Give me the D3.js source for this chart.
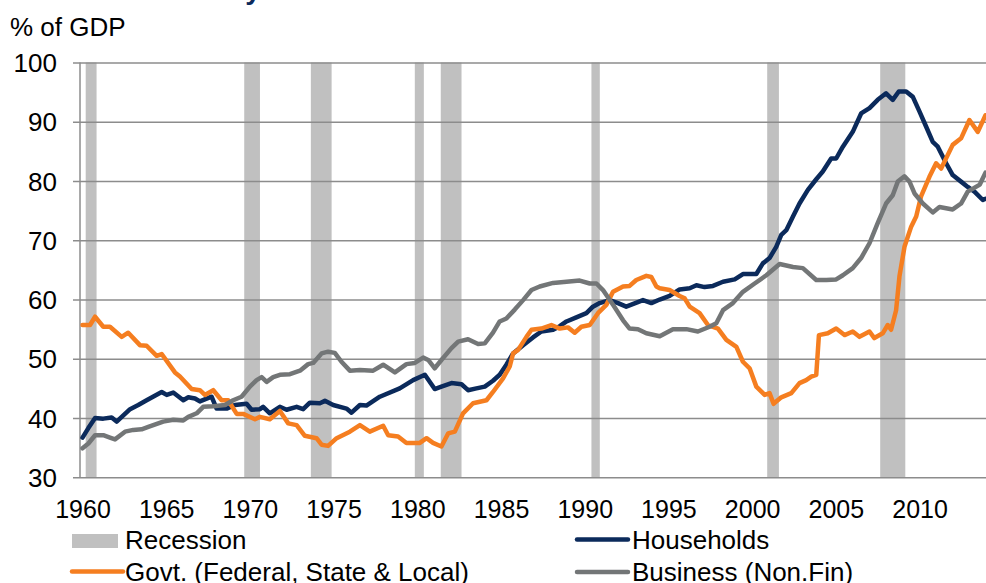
<!DOCTYPE html>
<html>
<head>
    <title>Debt by Sector</title>
    <script src="https://d3js.org/d3.v7.min.js"></script>
    <style>
        body {
            margin: 0;
            background-color: #fff;
            font-family: Arial, "Liberation Sans", sans-serif;
        }
        svg text {
            fill: #000;
        }
    </style>
</head>
<body>
    <div id="chart"></div>
    <script>
        // recession periods (start, end) in decimal years
        const recessions = [
            [1960.19, 1960.84], [1969.66, 1970.60], [1973.64, 1974.88],
            [1979.85, 1980.39], [1981.40, 1982.64], [1990.40, 1990.90],
            [2000.90, 2001.60], [2007.65, 2009.15]
        ];

        const yTicks = [30, 40, 50, 60, 70, 80, 90, 100];
        const xTicks = [1960, 1965, 1970, 1975, 1980, 1985, 1990, 1995, 2000, 2005, 2010];

        // households debt, % of GDP
        const households = [
            [1960.00, 36.7], [1960.35, 38.3], [1960.75, 40.0], [1961.24, 39.9], [1961.74, 40.1],
            [1962.04, 39.4], [1962.84, 41.5], [1963.33, 42.2], [1963.83, 43.0], [1964.73, 44.4],
            [1965.03, 43.9], [1965.42, 44.3], [1966.02, 43.0], [1966.32, 43.5], [1966.72, 43.3],
            [1967.01, 42.8], [1967.71, 43.6], [1968.01, 41.6], [1968.61, 41.6], [1969.10, 42.2],
            [1969.80, 42.4], [1970.10, 41.4], [1970.60, 41.5], [1970.79, 41.9], [1971.19, 40.8],
            [1971.79, 41.9], [1972.19, 41.4], [1972.79, 41.9], [1973.18, 41.5], [1973.58, 42.6],
            [1974.18, 42.5], [1974.48, 42.9], [1974.97, 42.2], [1975.77, 41.6], [1976.07, 40.9],
            [1976.57, 42.2], [1976.96, 42.1], [1977.76, 43.6], [1978.95, 45.0], [1979.75, 46.4],
            [1980.45, 47.3], [1981.04, 44.9], [1981.44, 45.3], [1982.04, 45.9], [1982.64, 45.7],
            [1983.03, 44.7], [1983.53, 45.0], [1984.03, 45.3], [1984.52, 46.3], [1984.92, 47.3],
            [1985.32, 49.0], [1985.72, 50.9], [1986.32, 52.3], [1986.91, 53.6], [1987.41, 54.6],
            [1988.11, 54.9], [1988.51, 55.5], [1988.91, 56.3], [1989.50, 57.0], [1990.10, 57.7],
            [1990.49, 58.8], [1990.89, 59.4], [1991.49, 59.9], [1991.99, 59.4], [1992.48, 58.8],
            [1993.48, 59.9], [1993.98, 59.4], [1994.48, 60.0], [1995.07, 60.6], [1995.67, 61.7],
            [1996.27, 61.9], [1996.67, 62.4], [1997.16, 62.1], [1997.66, 62.3], [1998.26, 63.0],
            [1998.96, 63.4], [1999.45, 64.3], [2000.25, 64.3], [2000.64, 66.1], [2001.04, 67.0],
            [2001.44, 68.9], [2001.74, 70.9], [2002.04, 71.7], [2002.44, 74.0], [2002.83, 76.2],
            [2003.33, 78.5], [2003.83, 80.3], [2004.22, 81.6], [2004.72, 83.8], [2005.02, 83.8],
            [2005.42, 85.8], [2006.01, 88.3], [2006.51, 91.4], [2007.01, 92.3], [2007.50, 93.7],
            [2008.00, 94.8], [2008.40, 93.7], [2008.76, 95.1], [2009.20, 95.1], [2009.60, 94.2],
            [2010.00, 91.7], [2010.39, 89.2], [2010.79, 86.6], [2011.09, 85.8], [2011.59, 83.0],
            [2011.98, 81.0], [2012.48, 79.9], [2012.88, 79.0], [2013.28, 78.2], [2013.78, 76.8],
            [2013.94, 77.0]
        ];

        // government debt (federal, state & local), % of GDP
        const govt = [
            [1960.00, 55.7], [1960.45, 55.7], [1960.75, 57.1], [1961.24, 55.4], [1961.64, 55.4],
            [1962.34, 53.7], [1962.73, 54.4], [1963.43, 52.3], [1963.83, 52.2], [1964.43, 50.5],
            [1964.73, 50.8], [1965.52, 47.7], [1965.82, 47.0], [1966.52, 44.9], [1967.01, 44.7],
            [1967.31, 43.9], [1967.81, 44.7], [1968.31, 43.0], [1968.70, 43.0], [1969.21, 40.7],
            [1969.60, 40.7], [1970.30, 39.8], [1970.60, 40.2], [1971.19, 39.8], [1971.79, 41.2],
            [1972.29, 39.1], [1972.79, 38.8], [1973.28, 37.0], [1973.98, 36.6], [1974.28, 35.5],
            [1974.67, 35.3], [1975.18, 36.6], [1975.97, 37.7], [1976.57, 38.8], [1977.16, 37.7],
            [1977.96, 38.7], [1978.26, 37.1], [1978.85, 36.9], [1979.35, 35.8], [1980.15, 35.8],
            [1980.55, 36.6], [1980.94, 35.8], [1981.44, 35.2], [1981.84, 37.4], [1982.24, 37.7],
            [1982.73, 40.8], [1983.33, 42.5], [1984.13, 43.0], [1984.52, 44.4], [1985.12, 46.7],
            [1985.52, 48.7], [1985.72, 50.9], [1986.02, 51.5], [1986.52, 53.7], [1986.82, 54.9],
            [1987.41, 55.1], [1988.01, 55.7], [1988.51, 55.1], [1989.00, 55.3], [1989.40, 54.4],
            [1989.80, 55.4], [1990.30, 55.7], [1990.79, 57.7], [1991.29, 59.1], [1991.69, 61.3],
            [1992.29, 62.2], [1992.68, 62.3], [1993.08, 63.3], [1993.68, 64.0], [1993.98, 63.8],
            [1994.28, 62.2], [1994.48, 61.9], [1995.07, 61.6], [1995.67, 60.6], [1995.97, 60.2],
            [1996.27, 58.8], [1996.86, 57.7], [1997.36, 55.7], [1997.96, 55.1], [1998.46, 53.2],
            [1999.06, 52.0], [1999.45, 49.5], [1999.85, 48.4], [2000.25, 45.3], [2000.75, 43.9],
            [2001.04, 44.2], [2001.28, 42.4], [2001.74, 43.5], [2002.34, 44.2], [2002.83, 45.9],
            [2003.23, 46.4], [2003.53, 47.0], [2003.83, 47.3], [2003.99, 54.0], [2004.52, 54.3],
            [2005.02, 55.1], [2005.52, 54.0], [2006.01, 54.6], [2006.41, 53.7], [2007.01, 54.6],
            [2007.30, 53.5], [2007.80, 54.3], [2008.10, 55.7], [2008.30, 54.9], [2008.60, 58.2],
            [2008.80, 63.9], [2009.10, 68.9], [2009.50, 72.3], [2009.80, 74.0], [2010.09, 77.4],
            [2010.59, 80.7], [2010.99, 83.0], [2011.29, 82.1], [2011.98, 86.1], [2012.48, 87.2],
            [2012.98, 90.3], [2013.48, 88.3], [2013.94, 91.1]
        ];

        // business (non-financial) debt, % of GDP
        const business = [
            [1960.00, 34.9], [1960.35, 35.7], [1960.75, 37.1], [1961.24, 37.1], [1961.64, 36.7],
            [1961.94, 36.4], [1962.54, 37.7], [1963.03, 38.0], [1963.53, 38.1], [1963.93, 38.5],
            [1964.82, 39.4], [1965.42, 39.7], [1966.02, 39.6], [1966.32, 40.2], [1966.82, 40.8],
            [1967.21, 41.9], [1967.81, 42.0], [1968.51, 42.2], [1969.00, 43.0], [1969.50, 43.6],
            [1970.00, 45.3], [1970.40, 46.4], [1970.70, 46.9], [1971.00, 46.1], [1971.39, 46.9],
            [1971.79, 47.3], [1972.39, 47.4], [1972.99, 48.0], [1973.48, 49.1], [1973.78, 49.3],
            [1974.28, 50.9], [1974.67, 51.2], [1975.07, 51.0], [1975.47, 49.5], [1975.97, 48.0],
            [1976.57, 48.1], [1977.36, 48.0], [1977.96, 49.0], [1978.66, 47.7], [1979.35, 49.1],
            [1979.85, 49.3], [1980.35, 50.2], [1980.65, 49.8], [1981.04, 48.4], [1981.44, 49.8],
            [1982.04, 51.8], [1982.44, 52.9], [1983.03, 53.3], [1983.63, 52.5], [1984.03, 52.6],
            [1984.52, 54.4], [1984.92, 56.3], [1985.32, 56.8], [1985.82, 58.3], [1986.32, 59.9],
            [1986.82, 61.6], [1987.31, 62.2], [1988.11, 62.8], [1988.91, 63.0], [1989.70, 63.2],
            [1990.30, 62.7], [1990.70, 62.7], [1991.09, 61.6], [1991.69, 59.1], [1992.29, 56.5],
            [1992.68, 55.1], [1993.18, 55.0], [1993.68, 54.3], [1994.48, 53.8], [1995.27, 55.0],
            [1996.07, 55.0], [1996.76, 54.6], [1997.46, 55.4], [1997.86, 56.0], [1998.26, 58.2],
            [1998.85, 59.4], [1999.45, 61.3], [2000.15, 62.7], [2000.85, 64.1], [2001.64, 66.0],
            [2002.44, 65.5], [2003.03, 65.3], [2003.83, 63.3], [2004.43, 63.3], [2005.02, 63.4],
            [2005.42, 64.1], [2006.01, 65.3], [2006.51, 67.0], [2007.01, 69.5], [2007.50, 72.9],
            [2008.00, 76.2], [2008.40, 77.6], [2008.70, 79.9], [2009.10, 80.8], [2009.40, 79.9],
            [2009.70, 77.9], [2010.20, 76.2], [2010.79, 74.7], [2011.19, 75.6], [2011.98, 75.2],
            [2012.48, 76.2], [2012.88, 78.2], [2013.60, 79.4], [2013.94, 81.4]
        ];

        const width = 986;
        const height = 583;
        const margin = { top: 62.5, right: 0, bottom: 105.7, left: 80 };

        const svg = d3.select('#chart')
            .append('svg')
            .attr('width', width)
            .attr('height', height);

        const x = d3.scaleLinear()
            .domain([1959.85, 2013.97])
            .range([margin.left, width - margin.right]);

        const y = d3.scaleLinear()
            .domain([30, 100])
            .range([height - margin.bottom, margin.top]);

        // title (mostly cut off at the top edge)
        svg.append('text')
            .attr('x', 18)
            .attr('y', -1)
            .style('font-size', '28px')
            .style('font-weight', 'bold')
            .style('fill', '#0b2a5b')
            .text('US Debt Ratios by Sector');

        svg.append('text')
            .attr('x', 10)
            .attr('y', 36)
            .style('font-size', '26px')
            .text('% of GDP');

        // recession bars
        svg.append('g')
            .selectAll('rect')
            .data(recessions)
            .join('rect')
            .attr('x', d => x(d[0]))
            .attr('width', d => x(d[1]) - x(d[0]))
            .attr('y', y(100))
            .attr('height', y(30) - y(100))
            .attr('fill', '#c0c0c0');

        // horizontal gridlines + y labels
        const yAxis = d3.axisLeft(y)
            .tickValues(yTicks)
            .tickSize(-(width - margin.left + 7))
            .tickPadding(16)
            .tickFormat(d3.format('d'));

        const gy = svg.append('g')
            .attr('transform', `translate(${margin.left - 7},0)`)
            .call(yAxis);
        gy.select('.domain').remove();
        gy.selectAll('.tick line')
            .attr('stroke', '#8c8c8c')
            .attr('stroke-width', 1.5);
        gy.selectAll('.tick text')
            .attr('x', -16)
            .style('font-size', '26px')
            .style('font-family', 'Arial, "Liberation Sans", sans-serif')
            .attr('dy', '0.35em');

        // left axis line
        svg.append('line')
            .attr('x1', margin.left).attr('x2', margin.left)
            .attr('y1', y(100)).attr('y2', y(30))
            .attr('stroke', '#8c8c8c')
            .attr('stroke-width', 1.5);

        // x labels
        const xAxis = d3.axisBottom(x)
            .tickValues(xTicks)
            .tickSize(0)
            .tickPadding(0)
            .tickFormat(d3.format('d'));

        const gx = svg.append('g')
            .attr('transform', `translate(0,${y(30)})`)
            .call(xAxis);
        gx.select('.domain').remove();
        gx.selectAll('.tick text')
            .attr('y', 41)
            .attr('dy', '0')
            .style('font-size', '25px')
            .style('font-family', 'Arial, "Liberation Sans", sans-serif');

        // series lines
        const line = d3.line()
            .x(d => x(d[0]))
            .y(d => y(d[1]));

        const series = [
            { name: 'Households', data: households, color: '#0b2a5b' },
            { name: 'Govt. (Federal, State & Local)', data: govt, color: '#f57e20' },
            { name: 'Business (Non.Fin)', data: business, color: '#737677' }
        ];

        svg.append('defs').append('clipPath')
            .attr('id', 'plot-clip')
            .append('rect')
            .attr('x', margin.left)
            .attr('y', 0)
            .attr('width', width - margin.left)
            .attr('height', height);

        svg.append('g')
            .attr('clip-path', 'url(#plot-clip)')
            .selectAll('path')
            .data(series)
            .join('path')
            .attr('d', d => line(d.data))
            .attr('fill', 'none')
            .attr('stroke', d => d.color)
            .attr('stroke-width', 4.5)
            .attr('stroke-linejoin', 'round')
            .attr('stroke-linecap', 'round');

        // legend
        const legend = svg.append('g').style('font-size', '26px');

        legend.append('rect')
            .attr('x', 72).attr('y', 534)
            .attr('width', 46).attr('height', 14)
            .attr('fill', '#c0c0c0');
        legend.append('text').attr('x', 125).attr('y', 549).text('Recession');

        const legendItems = [
            { s: series[0], lx: 577, tx: 632, ly: 539.5, ty: 549 },
            { s: series[1], lx: 72, tx: 125, ly: 571.5, ty: 581 },
            { s: series[2], lx: 577, tx: 632, ly: 572, ty: 581 }
        ];

        legendItems.forEach(item => {
            legend.append('line')
                .attr('x1', item.lx).attr('x2', item.lx + 51)
                .attr('y1', item.ly).attr('y2', item.ly)
                .attr('stroke', item.s.color)
                .attr('stroke-width', 4.5)
                .attr('stroke-linecap', 'round');
            legend.append('text')
                .attr('x', item.tx).attr('y', item.ty)
                .text(item.s.name);
        });
    </script>
</body>
</html>
